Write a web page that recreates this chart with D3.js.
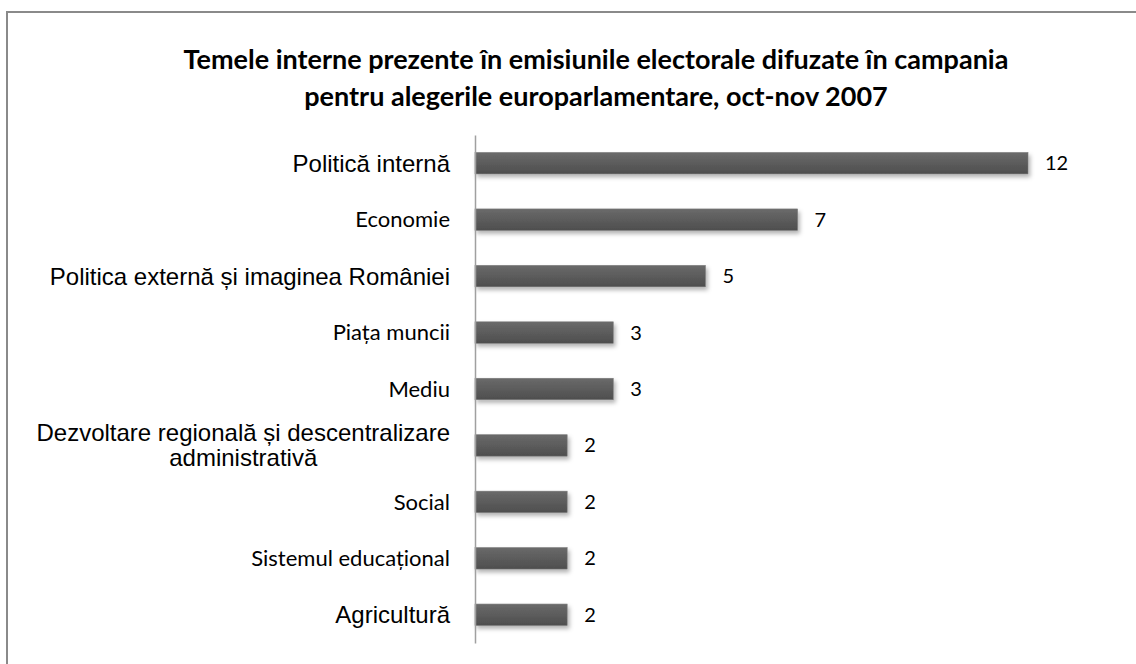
<!DOCTYPE html>
<html>
<head>
<meta charset="utf-8">
<script src="https://cdn.jsdelivr.net/npm/d3@7/dist/d3.min.js"></script>
<style>
  html, body { margin: 0; padding: 0; background: #fff; }
  svg { display: block; }
</style>
</head>
<body>
<div id="chart"></div>
<script>
// data
const categories = [
  "Politică internă",
  "Economie",
  "Politica externă și imaginea României",
  "Piața muncii",
  "Mediu",
  "Dezvoltare regională și descentralizare administrativă",
  "Social",
  "Sistemul educațional",
  "Agricultură"
];
const values = [12, 7, 5, 3, 3, 2, 2, 2, 2];
const titleLines = [
  "Temele interne prezente în emisiunile electorale difuzate în campania",
  "pentru alegerile europarlamentare, oct-nov 2007"
];
// labels that were typeset in the arial-like face (the rest look like calibri)
const arialLabels = new Set([
  "Politică internă",
  "Politica externă și imaginea României",
  "Dezvoltare regională și descentralizare administrativă",
  "Agricultură"
]);
// manual line breaks for long labels
const labelBreaks = {
  "Dezvoltare regională și descentralizare administrativă":
    ["Dezvoltare regională și descentralizare", "administrativă"]
};

const width = 1136, height = 664;
const margin = {left: 475, right: 108, top: 135, bottom: 21};

const svg = d3.select("#chart").append("svg")
  .attr("width", width)
  .attr("height", height);

const defs = svg.append("defs");
const grad = defs.append("linearGradient")
  .attr("id", "barGrad")
  .attr("x1", 0).attr("y1", 0).attr("x2", 0).attr("y2", 1);
grad.append("stop").attr("offset", "0%").attr("stop-color", "#6a6a6a");
grad.append("stop").attr("offset", "100%").attr("stop-color", "#4e4e4e");

const shadow = defs.append("filter")
  .attr("id", "shadow")
  .attr("x", "-5%").attr("y", "-40%").attr("width", "115%").attr("height", "200%");
shadow.append("feDropShadow")
  .attr("dx", 2).attr("dy", 3)
  .attr("stdDeviation", 2)
  .attr("flood-color", "#000")
  .attr("flood-opacity", 0.3);

// outer frame
svg.append("rect")
  .attr("x", 7).attr("y", 12)
  .attr("width", 1200).attr("height", 700)
  .attr("fill", "none")
  .attr("stroke", "#8a8a8a")
  .attr("stroke-width", 2);

const data = categories.map((c, i) => ({name: c, value: values[i]}));

const x = d3.scaleLinear()
  .domain([0, 12])
  .range([margin.left, width - margin.right]);

const y = d3.scaleBand()
  .domain(categories)
  .range([margin.top, height - margin.bottom])
  .paddingInner(0.62)
  .paddingOuter(0.31);

// title
svg.append("g")
  .selectAll("text")
  .data(titleLines)
  .join("text")
  .attr("x", 596)
  .attr("y", (d, i) => 69 + i * 37)
  .attr("text-anchor", "middle")
  .attr("font-family", "Lato, 'Open Sans', sans-serif")
  .attr("font-weight", "bold")
  .attr("font-size", 27)
  .attr("fill", "#000")
  .text(d => d);

// bars
svg.append("g")
  .selectAll("rect")
  .data(data)
  .join("rect")
  .attr("x", x(0))
  .attr("y", d => y(d.name))
  .attr("width", d => x(d.value) - x(0))
  .attr("height", y.bandwidth())
  .attr("fill", "url(#barGrad)")
  .attr("stroke", "#7a7a7a")
  .attr("stroke-width", 0.6)
  .attr("filter", "url(#shadow)");

// vertical axis line only
const yAxis = svg.append("g")
  .attr("transform", `translate(${margin.left},0)`)
  .call(d3.axisLeft(y).tickSize(0).tickSizeOuter(0).tickFormat(""));
yAxis.select(".domain").attr("stroke", "#a0a0a0").attr("stroke-width", 1.5);

// category labels
const labelRight = 450;
const labels = svg.append("g");
data.forEach(d => {
  const arial = arialLabels.has(d.name);
  const t = labels.append("text")
    .attr("font-family", arial ? "'Liberation Sans', Arial, sans-serif" : "Lato, 'Open Sans', sans-serif")
    .attr("font-size", arial ? 24 : 22)
    .attr("fill", "#000");
  const cy = y(d.name) + y.bandwidth() / 2;
  const lines = labelBreaks[d.name] || [d.name];
  if (lines.length === 1) {
    t.attr("x", labelRight).attr("y", cy).attr("dy", "0.35em")
      .attr("text-anchor", "end").text(d.name);
  } else {
    t.attr("text-anchor", "middle");
    const spans = lines.map((l, i) => t.append("tspan")
      .attr("y", cy)
      .attr("dy", `${(i - (lines.length - 1) / 2) * 1.05 + 0.35}em`)
      .text(l));
    const w = d3.max(spans, s => s.node().getComputedTextLength());
    spans.forEach(s => s.attr("x", labelRight - w / 2));
  }
});

// value labels
svg.append("g")
  .selectAll("text")
  .data(data)
  .join("text")
  .attr("x", d => x(d.value) + 17)
  .attr("y", d => y(d.name) + y.bandwidth() / 2)
  .attr("dy", "0.35em")
  .attr("font-family", "Lato, 'Open Sans', sans-serif")
  .attr("font-size", 20)
  .attr("fill", "#000")
  .text(d => d.value);
</script>
</body>
</html>
